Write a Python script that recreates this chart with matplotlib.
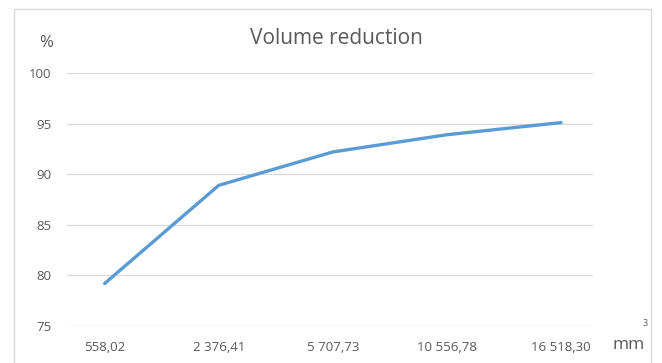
import matplotlib.pyplot as plt
from matplotlib.patches import Rectangle

# Volume (mm3) categories and the matching reduction in percent
volumes = ["558,02", "2 376,41", "5 707,73", "10 556,78", "16 518,30"]
reduction = [79.2, 88.9, 92.2, 93.9, 95.1]
y_ticks = [75, 80, 85, 90, 95, 100]

text_color = "#595959"
grid_color = "#D9D9D9"
line_color = "#5B9BD5"

plt.rcParams['font.family'] = ['Open Sans', 'DejaVu Sans']

fig = plt.figure(figsize=(6.62, 3.63), dpi=100)
ax = fig.add_axes([67 / 662, 37 / 363, 526 / 662, 253 / 363])

# Outer chart frame
fig.patches.append(Rectangle((14 / 662, -0.05), 637 / 662, 1.05 - 9 / 363,
                             transform=fig.transFigure, fill=False,
                             edgecolor="#D9D9D9", linewidth=1))

x = list(range(len(volumes)))
ax.plot(x, reduction, color=line_color, linewidth=2.4, solid_capstyle='round',
        solid_joinstyle='round', zorder=3)

ax.set_ylim(75, 100)
ax.set_xlim(-0.33, 4.28)
ax.set_yticks(y_ticks)
ax.set_xticks(x)
ax.set_xticklabels(volumes)
ax.yaxis.grid(True, color=grid_color, linewidth=0.9)
ax.set_axisbelow(True)
for s in ax.spines.values():
    s.set_visible(False)
ax.tick_params(length=0, labelsize=9.5, labelcolor=text_color)
ax.tick_params(axis='y', pad=11)
ax.tick_params(axis='x', pad=11)

fig.text(336 / 662, 1 - 38 / 363, "Volume reduction", ha='center', va='center',
         fontsize=15, color=text_color)
fig.text(46 / 662, 1 - 43 / 363, "%", ha='center', va='center',
         fontsize=12, color=text_color)
fig.text(612 / 662, 1 - 345 / 363, "mm", ha='left', va='center',
         fontsize=12.5, color=text_color)
fig.text(643 / 662, 1 - 323 / 363, "3", ha='left', va='center',
         fontsize=6.5, color=text_color)

fig.savefig("out.png", dpi=100)
